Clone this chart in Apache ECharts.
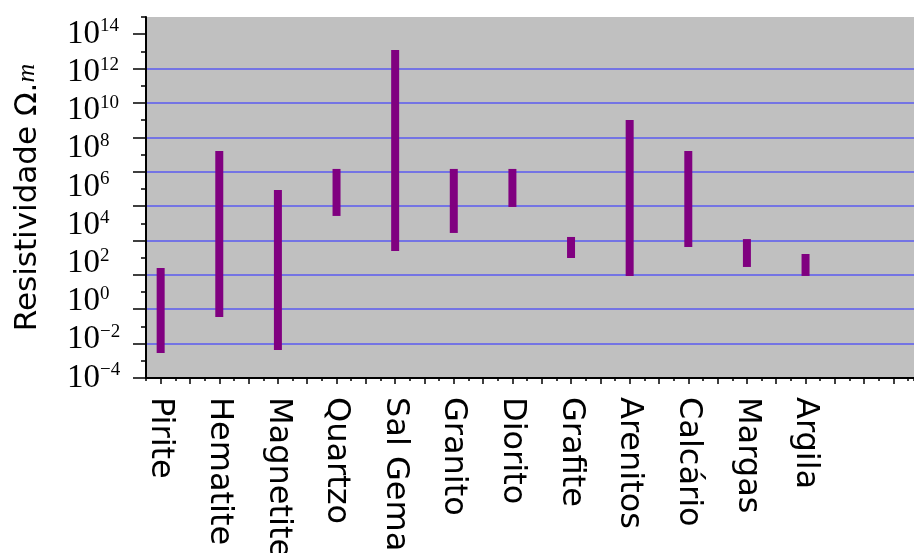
<!DOCTYPE html>
<html>
<head>
<meta charset="utf-8">
<script src="https://cdn.jsdelivr.net/npm/echarts@6/dist/echarts.min.js"></script>
<style>
  html, body { margin: 0; padding: 0; background: #ffffff; }
  #chart { width: 914px; height: 553px; }
</style>
</head>
<body>
<div id="chart"></div>
<script>
// Rock / mineral types along the horizontal axis
const categories = ['Pirite', 'Hematite', 'Magnetite', 'Quartzo', 'Sal Gema', 'Granito',
  'Diorito', 'Grafite', 'Arenitos', 'Calcário', 'Margas', 'Argila'];

// Resistivity range of each type, as log10 of the value in ohm-metres
const logRhoMin = [-2.69, -0.81, -2.53, 4.48, 2.65, 3.59, 4.95, 2.28, 1.34, 2.86, 1.81, 1.34];
const logRhoMax = [1.76, 7.88, 5.84, 6.94, 13.16, 6.94, 6.94, 3.38, 9.50, 7.88, 3.27, 2.49];

// Decade exponents written on the vertical axis
const decadeLabels = [-4, -2, 0, 2, 4, 6, 8, 10, 12, 14];

const chart = echarts.init(document.getElementById('chart'), null, { renderer: 'canvas' });

const black = '#000000';
const sansFont = 'DejaVu Sans';
const serifFont = 'Liberation Serif';

// horizontal axis runs from a quarter step before the first category
const xMin = -0.25;
const xMax = 12.85;
const categoryIdx = categories.map(function (c, i) { return i; });
const halfSteps = [];
for (let k = 0; k <= 25; k++) halfSteps.push(k / 2);

const option = {
  animation: false,
  backgroundColor: '#ffffff',
  grid: {
    left: 146, top: 17, right: 0, bottom: 175,
    outerBoundsMode: 'none',
    containLabel: false,
    show: true, backgroundColor: '#c0c0c0', borderWidth: 0
  },
  xAxis: [
    {
      // category positions, long ticks and the names
      type: 'value', position: 'bottom', min: xMin, max: xMax, interval: 0.25,
      axisLine: { show: true, onZero: false, lineStyle: { color: black, width: 2 } },
      axisTick: {
        show: true, length: 6, lineStyle: { color: black, width: 1.5 },
        customValues: halfSteps
      },
      splitLine: { show: false },
      axisLabel: {
        show: true, rotate: -90, margin: 19,
        fontFamily: sansFont, fontSize: 32, color: black,
        customValues: categoryIdx,
        formatter: function (v) {
          const i = Math.round(v);
          return categories[i] !== undefined ? categories[i] : '';
        }
      }
    },
    {
      // short intermediate ticks
      type: 'value', position: 'bottom', min: xMin, max: xMax, interval: 0.25,
      axisLine: { show: false, onZero: false },
      axisTick: { show: true, length: 3, lineStyle: { color: black, width: 1.5 } },
      splitLine: { show: false },
      axisLabel: { show: false }
    }
  ],
  yAxis: [
    {
      // decade scale carrying the 10^n labels and the data
      type: 'value', position: 'left', min: -4, max: 14.89, interval: 2,
      axisLine: { show: false, onZero: false },
      axisTick: { show: false },
      splitLine: { show: false },
      name: '{t|Resistividade Ω.}{m|m}',
      nameLocation: 'middle', nameRotate: 90, nameGap: 103,
      nameTextStyle: {
        rich: {
          t: { fontFamily: sansFont, fontSize: 31, color: black },
          m: { fontFamily: serifFont, fontStyle: 'italic', fontSize: 26, color: black }
        }
      },
      axisLabel: {
        show: true, align: 'left', margin: 79,
        customValues: decadeLabels,
        formatter: function (v) {
          const e = Math.round(v);
          const exp = e < 0 ? '\u2212' + Math.abs(e) : String(e);
          return '{b|10}{s|' + exp + '}';
        },
        rich: {
          b: { fontFamily: serifFont, fontSize: 33, color: black, lineHeight: 34, verticalAlign: 'middle' },
          s: { fontFamily: serifFont, fontSize: 19, color: black, lineHeight: 20, verticalAlign: 'top' }
        }
      }
    },
    {
      // horizontal grid lines and the long left ticks
      type: 'value', position: 'left', min: 0, max: 10.5, interval: 1,
      axisLine: { show: true, onZero: false, lineStyle: { color: black, width: 2 } },
      axisTick: {
        show: true, length: 13, lineStyle: { color: black, width: 1.5 },
        customValues: [0, 1, 2, 3, 4, 5, 6, 7, 8, 9, 10]
      },
      splitLine: {
        show: true, showMinLine: false, showMaxLine: false,
        lineStyle: { color: '#7474e4', width: 2 }
      },
      axisLabel: { show: false }
    },
    {
      // short left ticks halfway between grid lines
      type: 'value', position: 'left', min: 0, max: 10.5, interval: 0.5,
      axisLine: { show: false, onZero: false },
      axisTick: { show: true, length: 5, lineStyle: { color: black, width: 1.5 } },
      splitLine: { show: false },
      axisLabel: { show: false }
    }
  ],
  series: [
    {
      type: 'custom',
      xAxisIndex: 0,
      yAxisIndex: 0,
      data: categories.map(function (c, i) { return [i, logRhoMin[i], logRhoMax[i]]; }),
      renderItem: function (params, api) {
        const x = api.value(0);
        const top = api.coord([x, api.value(2)]);
        const bottom = api.coord([x, api.value(1)]);
        const w = 8;
        return {
          type: 'rect',
          shape: { x: top[0] - w / 2, y: top[1], width: w, height: bottom[1] - top[1] },
          style: { fill: '#800080' }
        };
      }
    }
  ]
};

chart.setOption(option);
</script>
</body>
</html>
